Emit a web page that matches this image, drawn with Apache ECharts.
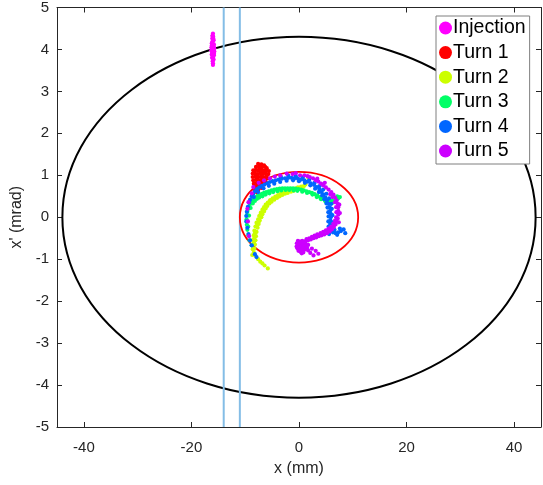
<!DOCTYPE html>
<html>
<head>
<meta charset="utf-8">
<script src="https://cdn.jsdelivr.net/npm/echarts@6/dist/echarts.min.js"></script>
<style>
html,body{margin:0;padding:0;background:#fff;}
#chart{width:543px;height:485px;}
</style>
</head>
<body>
<div id="chart"></div>
<script>
// ---------- data ----------
const xTicks = [-40, -20, 0, 20, 40];
const yTicks = [-5, -4, -3, -2, -1, 0, 1, 2, 3, 4, 5];
const seriesNames = ['Injection', 'Turn 1', 'Turn 2', 'Turn 3', 'Turn 4', 'Turn 5'];
const seriesColors = ['#ff00ff', '#ff0000', '#ccff00', '#00ff66', '#0066ff', '#cc00ff'];

// ellipses: [centerX, centerY, radiusX, radiusY]
const acceptanceEllipse = [0, 0, 44, 4.3];
const beamEllipse = [0, 0, 11, 1.08];
// vertical lines (x positions)
const septumLines = [-14, -11];

const injection = [
  [-16.0,4.38],[-16.05,4.33],[-15.95,4.30],[-16.12,4.26],[-15.88,4.22],[-16.0,4.20],[-16.22,4.15],
  [-15.82,4.12],[-16.05,4.10],[-16.28,4.05],[-15.76,4.03],[-16.0,4.00],[-16.3,3.98],[-15.74,3.95],
  [-16.1,3.93],[-16.24,3.88],[-15.82,3.86],[-16.0,3.84],[-16.17,3.80],[-15.88,3.76],[-16.05,3.72],
  [-16.0,3.67],[-16.0,3.63],[-15.93,4.25],[-16.15,3.92],[-15.85,4.06],[-16.1,4.32],[-15.92,3.98],
  [-16.12,4.18],[-15.97,3.80],[-16.18,4.02],[-15.8,3.9],[-16.2,4.1]
];
const turn1 = [
  [-7.6,1.27],[-7.0,1.26],[-6.5,1.24],[-8.0,1.20],[-7.4,1.21],[-6.9,1.19],[-6.3,1.20],[-6.0,1.17],
  [-8.5,1.12],[-8.0,1.13],[-7.6,1.11],[-7.1,1.13],[-6.6,1.11],[-6.1,1.12],[-5.6,1.10],
  [-8.6,1.04],[-8.2,1.05],[-7.7,1.03],[-7.2,1.05],[-6.7,1.03],[-6.2,1.05],[-5.7,1.03],
  [-8.6,0.96],[-8.1,0.97],[-7.6,0.95],[-7.1,0.97],[-6.6,0.95],[-6.1,0.97],[-5.8,0.93],
  [-8.5,0.88],[-8.0,0.89],[-7.5,0.87],[-7.0,0.89],[-6.5,0.87],[-6.2,0.85],
  [-8.4,0.80],[-7.9,0.81],[-7.4,0.79],[-6.9,0.81],[-6.6,0.78],
  [-8.3,0.72],[-7.8,0.73],[-7.3,0.71],[-7.0,0.70],[-8.2,0.64],[-7.6,0.65],[-7.9,0.60],
  [-7.35,1.16],[-6.8,1.08],[-7.85,1.00],[-6.35,0.92],[-7.25,0.84],[-8.3,1.08],[-7.55,0.76]
];
const turn2 = [
  [1.7,0.95],[1.2,0.78],[0.9,0.74],[0.6,0.70],[0.4,0.73],[0.1,0.69],[-0.2,0.71],[-0.4,0.66],
  [-0.7,0.68],[-1.0,0.63],[-1.2,0.66],[-1.5,0.61],[-1.8,0.64],[-2.1,0.58],[-2.3,0.62],[-2.6,0.56],
  [-2.9,0.59],[-3.1,0.53],[-3.4,0.56],[-3.6,0.50],[-3.9,0.53],[-4.1,0.46],[-4.4,0.49],[-4.6,0.42],
  [-4.9,0.45],[-5.1,0.37],[-5.4,0.40],[-5.5,0.33],[-5.8,0.35],[-5.9,0.27],[-6.2,0.30],[-6.2,0.21],
  [-6.5,0.24],[-6.5,0.14],[-6.8,0.18],[-6.8,0.07],[-7.1,0.11],[-7.0,0.00],[-7.4,0.03],[-7.3,-0.08],
  [-7.6,-0.05],[-7.5,-0.16],[-7.9,-0.13],[-7.7,-0.25],[-8.1,-0.22],[-7.9,-0.35],[-8.3,-0.32],
  [-8.0,-0.45],[-8.4,-0.43],[-8.1,-0.55],[-8.5,-0.54],[-8.2,-0.65],[-8.6,-0.65],[-8.3,-0.75],
  [-8.6,-0.76],[-8.4,-0.84],[-8.1,-0.92],[-7.6,-1.00],[-7.2,-1.06],[-6.8,-1.10],[-6.4,-1.15],
  [-5.8,-1.22],[-8.7,-0.90],[-3.0,0.56],[-4.7,0.44],[-6.0,0.29],[-7.2,0.05],[-7.8,-0.19],[-8.3,-0.49],
  [-2.0,0.62],[-3.8,0.50],[-5.2,0.41],[-6.4,0.20],[-7.5,-0.10],[-8.2,-0.38],[-8.4,-0.60]
];
const turn3 = [
  [-8.8,-0.67],[-9.2,-0.55],[-9.4,-0.43],[-9.6,-0.30],[-9.7,-0.18],[-9.75,-0.05],[-9.7,0.05],
  [-9.6,0.13],[-9.4,0.20],[-9.2,0.27],[-9.0,0.33],[-8.9,0.38],[-8.6,0.41],[-8.3,0.45],[-8.0,0.48],
  [-7.7,0.51],[-7.3,0.53],[-6.9,0.56],[-6.5,0.58],[-6.1,0.60],[-5.6,0.62],[-5.1,0.64],[-4.6,0.66],
  [-4.1,0.67],[-3.6,0.68],[-3.1,0.69],[-2.6,0.69],[-2.1,0.69],[-1.6,0.69],[-1.1,0.69],[-0.6,0.68],
  [-0.1,0.67],[0.4,0.66],[0.9,0.64],[1.4,0.62],[1.9,0.60],[2.4,0.58],[2.9,0.55],[3.4,0.52],
  [3.9,0.48],[4.4,0.45],[4.9,0.42],[5.4,0.40],[5.9,0.39],[6.4,0.39],[6.9,0.42],[7.3,0.45],[7.6,0.48],
  [-9.0,0.22],[-8.6,0.33],[-8.2,0.39],[-7.8,0.44],[-7.4,0.47],[-6.8,0.50],[-6.2,0.54],[-5.5,0.57],
  [-4.8,0.60],[-4.0,0.62],[-3.3,0.64],[-2.5,0.65],[-1.8,0.65],[-1.0,0.64],[-0.3,0.63],[0.6,0.61],
  [1.5,0.58],[2.5,0.54],[3.3,0.48],[4.1,0.43],[4.9,0.38],[5.6,0.36],[6.3,0.35],[7.1,0.50],
  [-9.3,0.04],[-9.45,-0.22]
];
const turn4 = [
  [-7.9,-0.95],[-8.2,-0.88],[-8.8,-0.67],[-9.1,-0.55],[-9.4,-0.40],[-9.6,-0.25],[-9.8,-0.10],
  [-9.8,0.03],[-9.7,0.13],[-9.5,0.25],[-9.3,0.35],[-9.1,0.42],[-8.8,0.50],[-8.5,0.56],[-8.2,0.62],
  [-7.8,0.67],[-7.4,0.71],[-6.9,0.75],[-6.4,0.78],[-5.9,0.81],[-5.4,0.84],[-4.9,0.86],[-4.3,0.88],
  [-3.8,0.90],[-3.2,0.92],[-2.6,0.93],[-2.0,0.94],[-1.4,0.94],[-0.8,0.93],[-0.2,0.92],[0.4,0.90],
  [1.0,0.88],[1.6,0.85],[2.2,0.81],[2.8,0.77],[3.3,0.72],[3.8,0.66],[4.2,0.60],[4.6,0.54],
  [4.9,0.47],[5.2,0.40],[5.5,0.32],[5.7,0.24],[5.8,0.16],[5.9,0.08],[5.9,0.00],[5.85,-0.08],
  [5.8,-0.16],[5.8,-0.24],[5.9,-0.31],[6.3,-0.36],[6.8,-0.38],[7.3,-0.36],[7.8,-0.33],[8.3,-0.29],
  [-8.4,0.48],[-7.6,0.60],[-6.6,0.69],[-5.6,0.75],[-4.6,0.80],[-3.5,0.84],[-2.3,0.87],[-1.1,0.88],
  [0.0,0.86],[1.1,0.82],[2.1,0.76],[3.0,0.68],[3.7,0.60],[4.3,0.52],[4.7,0.43],[5.1,0.33],
  [5.3,0.23],[5.45,0.12],[5.5,0.02],[5.45,-0.10],[5.5,-0.22],[5.6,-0.32],[6.1,0.20],[6.2,0.05],
  [6.15,-0.12],[6.1,-0.25],[6.0,0.32],[5.6,0.45],[5.1,0.56],[4.5,0.66],[3.8,0.74],[2.9,0.82],
  [1.9,0.89],[0.7,0.95],[-0.6,0.98],[-2.0,0.99],[-3.4,0.97],[6.6,-0.30],[7.1,-0.42],[7.6,-0.27],
  [5.6,-0.40],[8.6,-0.38]
];
const turn5 = [
  [-8.8,0.57],[-9.4,0.36],[-9.6,0.20],[-9.5,-0.10],[-9.3,-0.45],[-8.5,0.72],[-7.5,0.82],
  [-6.5,0.88],[-5.4,0.93],[-4.5,0.97],[-3.5,1.00],[-2.3,1.04],[-1.2,1.03],[0.2,1.00],[1.0,1.00],
  [1.6,0.98],[2.0,0.96],[2.6,0.93],[3.1,0.88],[3.6,0.85],[4.1,0.80],[4.5,0.76],[5.0,0.71],
  [5.5,0.66],[6.0,0.60],[6.4,0.54],[6.7,0.47],[7.0,0.40],[7.2,0.32],[7.3,0.24],[7.3,0.15],
  [7.3,0.06],[7.2,-0.03],[7.0,-0.10],[6.8,-0.17],[6.5,-0.23],[6.1,-0.29],[5.7,-0.34],[5.2,-0.38],
  [4.7,-0.41],[4.2,-0.43],[3.7,-0.45],[3.2,-0.48],[2.7,-0.50],[2.2,-0.53],[1.7,-0.55],[1.2,-0.57],
  [0.8,-0.60],[0.4,-0.62],[0.1,-0.65],
  [6.7,0.36],[6.9,0.24],[6.95,0.12],[6.9,0.00],[6.7,-0.08],[6.4,-0.15],[6.0,-0.22],[5.5,-0.27],
  [5.0,-0.31],[4.5,-0.35],[4.0,-0.38],[3.4,-0.41],[2.9,-0.44],[2.4,-0.47],[1.9,-0.50],[1.4,-0.52],
  [6.2,0.48],[5.8,0.55],[7.5,0.30],[7.6,0.10],[7.4,-0.12],[4.8,0.82],[3.4,0.92],[-0.6,1.05],
  [-0.4,-0.62],[-0.2,-0.68],[0.2,-0.70],[0.6,-0.66],[1.0,-0.64],[-0.3,-0.74],[0.1,-0.76],
  [0.5,-0.74],[0.9,-0.72],[1.3,-0.68],[-0.1,-0.80],[0.3,-0.82],[0.7,-0.80],[1.1,-0.77],
  [1.5,-0.73],[0.2,-0.58],[0.6,-0.56],[1.7,-0.66],[-0.2,-0.56],[0.5,-0.86],
  [1.7,-0.79],[2.1,-0.85],[2.4,-0.75],[2.7,-0.91],[3.6,-0.87],[3.1,-0.80],
  [-0.45,-0.70],[0.0,-0.72],[0.4,-0.78],[0.8,-0.84],[1.2,-0.62],[-0.1,-0.62]
];
const seriesData = [injection, turn1, turn2, turn3, turn4, turn5];

// ---------- chart ----------
const chart = echarts.init(document.getElementById('chart'), null, {renderer: 'canvas'});
const axisColor = '#262626';
const fontFamily = 'Liberation Sans, Arial, sans-serif';

function ellipseSeries(e, color, width, z) {
  return {
    type: 'custom',
    xAxisIndex: 0, yAxisIndex: 0,
    silent: true,
    z: z,
    data: [e],
    renderItem: function (params, api) {
      const c = api.coord([api.value(0), api.value(1)]);
      const sx = api.size([api.value(2), 0])[0];
      const sy = api.size([0, api.value(3)])[1];
      return {
        type: 'ellipse',
        shape: {cx: c[0], cy: c[1], rx: sx, ry: sy},
        style: {fill: 'none', stroke: color, lineWidth: width}
      };
    }
  };
}

const series = [];
series.push(ellipseSeries(acceptanceEllipse, '#000000', 2, 2));
series.push(ellipseSeries(beamEllipse, '#ff0000', 1.8, 4));
septumLines.forEach(function (xv) {
  series.push({
    type: 'line', xAxisIndex: 0, yAxisIndex: 0, silent: true, z: 3,
    data: [[xv, -5], [xv, 5]], symbol: 'none',
    lineStyle: {color: '#84bde6', width: 2}
  });
});
seriesNames.forEach(function (name, i) {
  series.push({
    name: name, type: 'scatter', xAxisIndex: 0, yAxisIndex: 0, z: 5,
    data: seriesData[i], symbol: 'circle', symbolSize: 4.2,
    itemStyle: {color: seriesColors[i], opacity: 1}
  });
});

const tickCommon = {show: true, inside: true, length: 5, lineStyle: {color: axisColor, width: 1}};

chart.setOption({
  animation: false,
  backgroundColor: '#ffffff',
  grid: {left: 57, right: 2, top: 7, bottom: 58, containLabel: false},
  legend: {
    data: seriesNames.map(function (n, i) { return {name: n, itemStyle: {color: seriesColors[i]}}; }),
    orient: 'vertical',
    left: 436, top: 16,
    icon: 'circle',
    itemWidth: 13, itemHeight: 13,
    itemGap: 4.6,
    padding: [2, 4, 3, 3],
    backgroundColor: '#ffffff',
    borderColor: '#7f7f7f', borderWidth: 1,
    selectedMode: false,
    textStyle: {color: '#000000', fontSize: 19.5, fontFamily: fontFamily, padding: [0, 0, 0, -4]}
  },
  xAxis: [{
    type: 'value', min: -45, max: 45, position: 'bottom',
    name: 'x (mm)', nameLocation: 'middle', nameGap: 34,
    nameTextStyle: {color: axisColor, fontSize: 16, fontFamily: fontFamily},
    axisLine: {show: true, onZero: false, lineStyle: {color: axisColor, width: 1}},
    axisTick: Object.assign({customValues: xTicks}, tickCommon),
    axisLabel: {customValues: xTicks, color: axisColor, fontSize: 15, fontFamily: fontFamily, margin: 13},
    splitLine: {show: false}
  }, {
    type: 'value', min: -45, max: 45, position: 'top',
    axisLine: {show: true, onZero: false, lineStyle: {color: axisColor, width: 1}},
    axisTick: Object.assign({customValues: xTicks}, tickCommon),
    axisLabel: {show: false},
    splitLine: {show: false}
  }],
  yAxis: [{
    type: 'value', min: -5, max: 5, interval: 1, position: 'left',
    name: "x' (mrad)", nameLocation: 'middle', nameGap: 24,
    nameTextStyle: {color: axisColor, fontSize: 16, fontFamily: fontFamily},
    axisLine: {show: true, onZero: false, lineStyle: {color: axisColor, width: 1}},
    axisTick: tickCommon,
    axisLabel: {color: axisColor, fontSize: 15, fontFamily: fontFamily, margin: 8},
    splitLine: {show: false}
  }, {
    type: 'value', min: -5, max: 5, interval: 1, position: 'right',
    axisLine: {show: true, onZero: false, lineStyle: {color: axisColor, width: 1}},
    axisTick: tickCommon,
    axisLabel: {show: false},
    splitLine: {show: false}
  }],
  series: series
});
</script>
</body>
</html>
